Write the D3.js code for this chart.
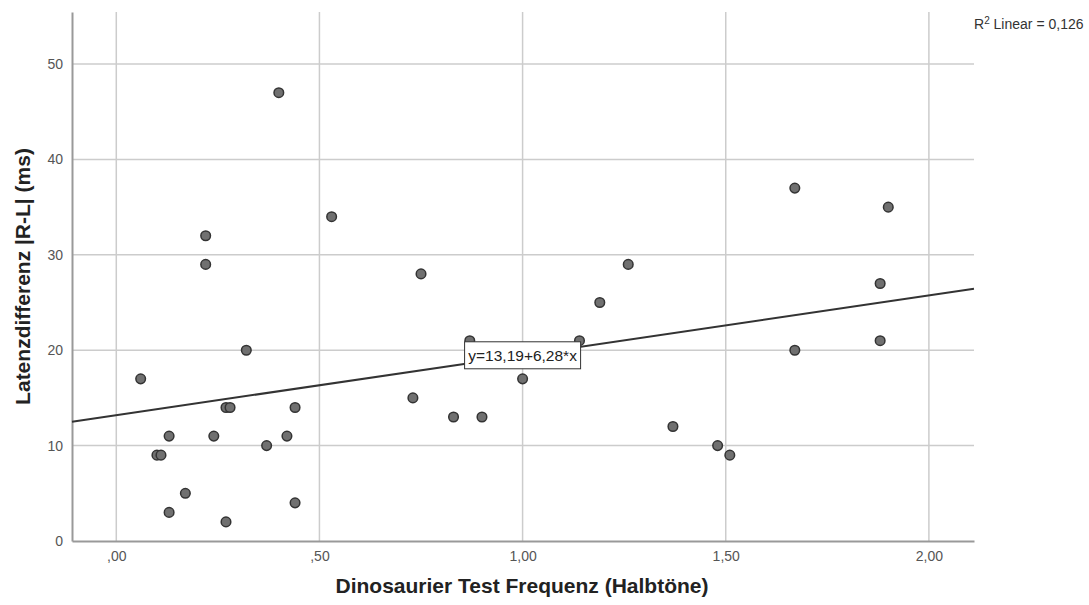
<!DOCTYPE html>
<html>
<head>
<meta charset="utf-8">
<script src="https://cdn.jsdelivr.net/npm/d3@7"></script>
<style>
  body { margin: 0; background: #fff; }
  text { font-family: Arial, "Liberation Sans", sans-serif; }
</style>
</head>
<body>
<div id="chart"></div>
<script>
// data
var freq = [0.06, 0.10, 0.11, 0.13, 0.13, 0.17, 0.22, 0.22, 0.24, 0.27, 0.28, 0.27,
            0.32, 0.37, 0.40, 0.42, 0.44, 0.44, 0.53, 0.73, 0.75, 0.83, 0.87, 0.90,
            1.00, 1.14, 1.19, 1.26, 1.37, 1.48, 1.51, 1.67, 1.67, 1.88, 1.88, 1.90];
var latenz = [17, 9, 9, 11, 3, 5, 32, 29, 11, 14, 14, 2,
              20, 10, 47, 11, 14, 4, 34, 15, 28, 13, 21, 13,
              17, 21, 25, 29, 12, 10, 9, 37, 20, 27, 21, 35];

var xTicks = [0, 0.5, 1, 1.5, 2];
var xTickLabels = [",00", ",50", "1,00", "1,50", "2,00"];
var yTicks = [0, 10, 20, 30, 40, 50];

// fit line as printed on the chart
var intercept = 13.19, slope = 6.28;
var fitLabel = "y=13,19+6,28*x";
var r2Label = "0,126";

var width = 1089, height = 605;
var margin = {top: 12, right: 115, bottom: 64, left: 72},
    w = width - margin.left - margin.right,
    h = height - margin.top - margin.bottom;

var svg = d3.select("#chart").append("svg")
    .attr("width", width)
    .attr("height", height);

var g = svg.append("g")
    .attr("transform", "translate(" + margin.left + "," + margin.top + ")");

var x = d3.scaleLinear().domain([-0.109, 2.111]).range([0, w]);
var y = d3.scaleLinear().domain([0, 55.46]).range([h, 0]);

// grid lines
g.selectAll("line.vgrid")
    .data(xTicks)
    .enter().append("line")
    .attr("class", "vgrid")
    .attr("x1", function(d) { return x(d); })
    .attr("x2", function(d) { return x(d); })
    .attr("y1", 0)
    .attr("y2", h)
    .style("stroke", "#cccccc")
    .style("stroke-width", 1.5);

g.selectAll("line.hgrid")
    .data(yTicks.slice(1))
    .enter().append("line")
    .attr("class", "hgrid")
    .attr("x1", 0)
    .attr("x2", w)
    .attr("y1", function(d) { return y(d); })
    .attr("y2", function(d) { return y(d); })
    .style("stroke", "#cccccc")
    .style("stroke-width", 1.5);

// axes
var xAxis = g.append("g")
    .attr("transform", "translate(0," + h + ")")
    .call(d3.axisBottom(x).tickValues(xTicks).tickSize(0).tickPadding(10)
        .tickFormat(function(d, i) { return xTickLabels[i]; }));

var yAxis = g.append("g")
    .call(d3.axisLeft(y).tickValues(yTicks).tickSize(0).tickPadding(9)
        .tickFormat(d3.format("d")));

[xAxis, yAxis].forEach(function(a) {
    a.select(".domain").style("stroke", "#999999").style("stroke-width", 2);
    a.selectAll("text")
        .style("font-size", "14px")
        .style("fill", "#555555");
});

// points
g.selectAll("circle.pt")
    .data(freq.map(function(f, i) { return {x: f, y: latenz[i]}; }))
    .enter().append("circle")
    .attr("class", "pt")
    .attr("cx", function(d) { return x(d.x); })
    .attr("cy", function(d) { return y(d.y); })
    .attr("r", 4.8)
    .style("fill", "#707070")
    .style("stroke", "#333333")
    .style("stroke-width", 1.5);

// regression line
var xd = x.domain();
g.append("line")
    .attr("x1", x(xd[0]))
    .attr("y1", y(intercept + slope * xd[0]))
    .attr("x2", x(xd[1]))
    .attr("y2", y(intercept + slope * xd[1]))
    .style("stroke", "#333333")
    .style("stroke-width", 2);

// equation box on the line at x = 1
var lx = x(1), ly = y(intercept + slope * 1);
var lab = g.append("g").attr("transform", "translate(" + lx + "," + ly + ")");
lab.append("rect")
    .attr("x", -58)
    .attr("y", -13.5)
    .attr("width", 116)
    .attr("height", 27)
    .style("fill", "#fff")
    .style("stroke", "#333333")
    .style("stroke-width", 1);
lab.append("text")
    .attr("text-anchor", "middle")
    .attr("dy", "0.36em")
    .style("font-size", "15.5px")
    .style("fill", "#222222")
    .text(fitLabel);

// R² note
var r2 = svg.append("text")
    .attr("x", 974)
    .attr("y", 29)
    .style("font-size", "14px")
    .style("fill", "#333333");
r2.append("tspan").text("R");
r2.append("tspan").attr("dy", -5).style("font-size", "10px").text("2");
r2.append("tspan").attr("dy", 5).text(" Linear = " + r2Label);

// axis titles
svg.append("text")
    .attr("x", 522)
    .attr("y", 593)
    .attr("text-anchor", "middle")
    .style("font-size", "21px")
    .style("font-weight", "bold")
    .style("fill", "#222222")
    .text("Dinosaurier Test Frequenz (Halbtöne)");

svg.append("text")
    .attr("transform", "translate(30," + (margin.top + h / 2) + ") rotate(-90)")
    .attr("text-anchor", "middle")
    .style("font-size", "21px")
    .style("font-weight", "bold")
    .style("fill", "#222222")
    .text("Latenzdifferenz |R-L| (ms)");
</script>
</body>
</html>
